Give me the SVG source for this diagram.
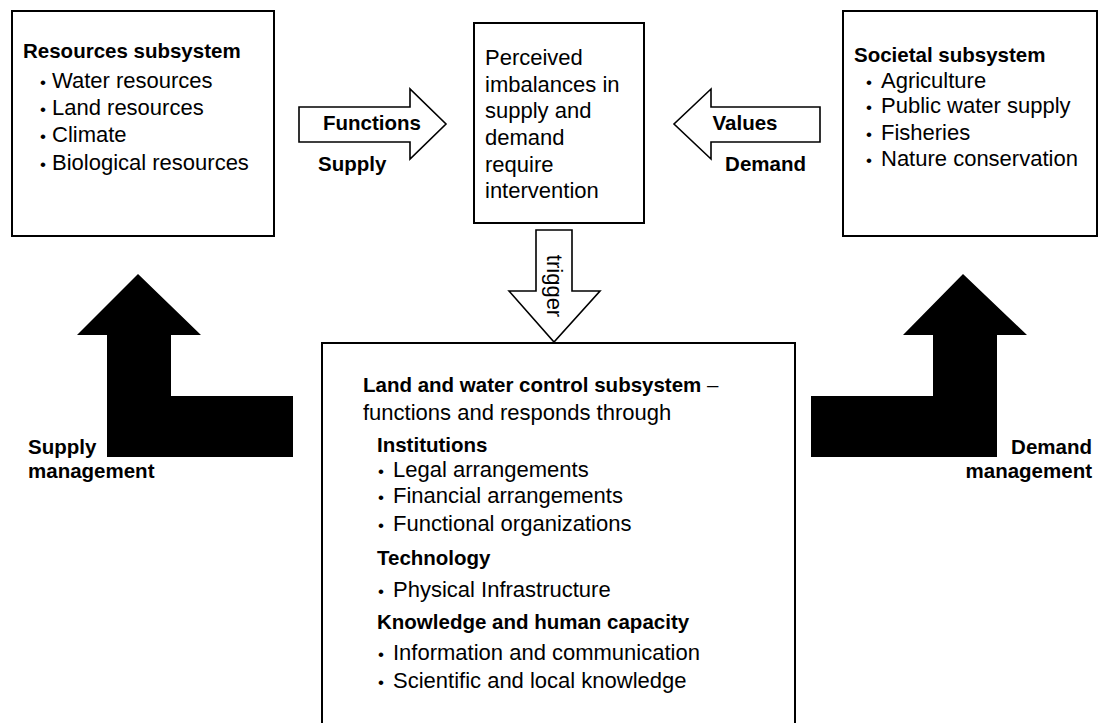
<svg xmlns="http://www.w3.org/2000/svg" width="1099" height="723" viewBox="0 0 1099 723">
<style>
text { font-family: "Liberation Sans", Arial, sans-serif; fill: #000; }
.r { font-size: 22px; }
.h { font-size: 20.5px; font-weight: bold; }
.bl { font-size: 17px; }
.box { fill: #fff; stroke: #000; stroke-width: 2; }
.hollow { fill: #fff; stroke: #000; stroke-width: 1.6; stroke-linejoin: miter; }
.solid { fill: #000; stroke: none; }
</style>
<rect width="1099" height="723" fill="#fff"/>

<g id="connectors">
  <g id="functions-arrow">
    <polygon class="hollow" points="299,107 410,107 410,89 446,124 410,159 410,142 299,142"/>
    <text class="h" x="372" y="130" text-anchor="middle">Functions</text>
    <text class="h" x="318" y="171">Supply</text>
  </g>
  <g id="values-arrow">
    <polygon class="hollow" points="820,107 711,107 711,89 674,124 711,159 711,142 820,142"/>
    <text class="h" x="745" y="130" text-anchor="middle">Values</text>
    <text class="h" x="806" y="171" text-anchor="end">Demand</text>
  </g>
  <g id="trigger-arrow">
    <polygon class="hollow" points="536,230 572,230 572,291 600,291 554,342 509,291 536,291"/>
    <text class="r" transform="translate(547,286) rotate(90)" text-anchor="middle">trigger</text>
  </g>
  <g id="supply-management-arrow">
    <polygon class="solid" points="107,457 107,335 77,335 138,274 201,335 171,335 171,396 293,396 293,457"/>
    <text class="h" x="28" y="454">Supply</text>
    <text class="h" x="28" y="478">management</text>
  </g>
  <g id="demand-management-arrow">
    <polygon class="solid" points="997,457 997,335 1027,335 963,274 903,335 933,335 933,396 811,396 811,457"/>
    <text class="h" x="1092" y="454" text-anchor="end">Demand</text>
    <text class="h" x="1092" y="478" text-anchor="end">management</text>
  </g>
</g>

<g id="resources-subsystem">
  <rect class="box" x="12" y="11" width="262" height="225"/>
  <text class="h" x="23" y="58">Resources subsystem</text>
  <text class="r" x="40" y="87.5"><tspan class="bl">•</tspan><tspan x="52">Water resources</tspan></text>
  <text class="r" x="40" y="114.5"><tspan class="bl">•</tspan><tspan x="52">Land resources</tspan></text>
  <text class="r" x="40" y="142"><tspan class="bl">•</tspan><tspan x="52">Climate</tspan></text>
  <text class="r" x="40" y="169.5"><tspan class="bl">•</tspan><tspan x="52">Biological resources</tspan></text>
</g>

<g id="perceived-imbalances">
  <rect class="box" x="474" y="23" width="170" height="200"/>
  <text class="r" x="485" y="65">Perceived</text>
  <text class="r" x="485" y="91.5">imbalances in</text>
  <text class="r" x="485" y="118">supply and</text>
  <text class="r" x="485" y="145">demand</text>
  <text class="r" x="485" y="171.5">require</text>
  <text class="r" x="485" y="198">intervention</text>
</g>

<g id="societal-subsystem">
  <rect class="box" x="843" y="11" width="254" height="225"/>
  <text class="h" x="854" y="61.5">Societal subsystem</text>
  <text class="r" x="866" y="87.5"><tspan class="bl">•</tspan><tspan x="881">Agriculture</tspan></text>
  <text class="r" x="866" y="113"><tspan class="bl">•</tspan><tspan x="881">Public water supply</tspan></text>
  <text class="r" x="866" y="139.5"><tspan class="bl">•</tspan><tspan x="881">Fisheries</tspan></text>
  <text class="r" x="866" y="165.5"><tspan class="bl">•</tspan><tspan x="881">Nature conservation</tspan></text>
</g>

<g id="land-water-control-subsystem">
  <rect class="box" x="322" y="343" width="473" height="420"/>
  <text class="h" x="363" y="392">Land and water control subsystem<tspan font-weight="normal"> –</tspan></text>
  <text class="r" x="363" y="420">functions and responds through</text>
  <text class="h" x="377" y="452">Institutions</text>
  <text class="r" x="378" y="477"><tspan class="bl">•</tspan><tspan x="393">Legal arrangements</tspan></text>
  <text class="r" x="378" y="503"><tspan class="bl">•</tspan><tspan x="393">Financial arrangements</tspan></text>
  <text class="r" x="378" y="531"><tspan class="bl">•</tspan><tspan x="393">Functional organizations</tspan></text>
  <text class="h" x="377" y="565">Technology</text>
  <text class="r" x="378" y="597"><tspan class="bl">•</tspan><tspan x="393">Physical Infrastructure</tspan></text>
  <text class="h" x="377" y="629">Knowledge and human capacity</text>
  <text class="r" x="378" y="660"><tspan class="bl">•</tspan><tspan x="393">Information and communication</tspan></text>
  <text class="r" x="378" y="688"><tspan class="bl">•</tspan><tspan x="393">Scientific and local knowledge</tspan></text>
</g>
</svg>
